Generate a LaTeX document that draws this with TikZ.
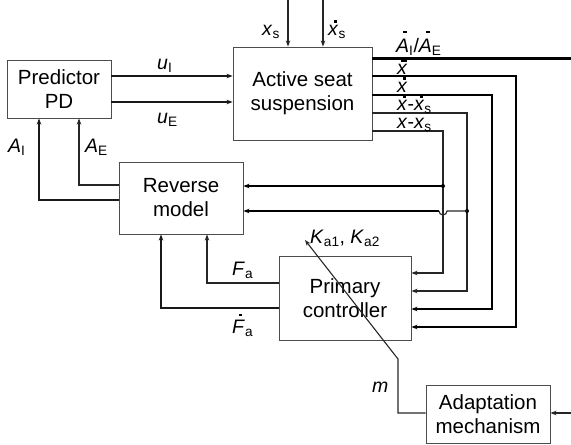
\documentclass[tikz,border=0pt]{standalone}
\usepackage{fontspec}
\setmainfont{Liberation Sans}
\usetikzlibrary{arrows.meta}
\newcommand{\vr}[2]{\textit{#1}\textsubscript{#2}}
\newcommand{\dotv}[1]{\leavevmode\rlap{\hspace{0.3em}\rule[0.64em]{0.14em}{0.14em}}\textit{#1}}
\newcommand{\ddotv}[1]{\leavevmode\rlap{\hspace{0.2em}\rule[0.64em]{0.32em}{0.14em}}\textit{#1}}
\newcommand{\dotF}{\leavevmode\rlap{\hspace{0.36em}\rule[0.86em]{0.14em}{0.14em}}\textit{F}}
\newcommand{\barA}{\leavevmode\rlap{\hspace{0.36em}\rule[0.98em]{0.2em}{0.09em}}\textit{A}}
\begin{document}
\begin{tikzpicture}[x=1pt,y=-1pt,
  box/.style={draw=black!70, line width=0.9pt, align=center, font=\fontsize{20.5}{24}\selectfont, inner sep=0pt},
  lbl/.style={font=\fontsize{19.5}{22}\selectfont, inner sep=0pt, anchor=base west, text height=12pt, text depth=3pt},
  thk/.style={line width=2.5pt},
  med/.style={line width=1.7pt, draw=black!90},
  thn/.style={line width=1.1pt, draw=black!85},
  arr/.style={-{Stealth[length=6pt,width=4.5pt]}},
]
\useasboundingbox (0,0) rectangle (571,445);

% boxes
\node[box, minimum width=104pt, minimum height=58pt] (pd) at (59,89) {Predictor\\PD};
\node[box, minimum width=139pt, minimum height=93pt] (ass) at (302.5,93.5) {Active seat\\suspension};
\node[box, minimum width=124pt, minimum height=72pt] (rm) at (181,198) {Reverse\\model};
\node[box, minimum width=132pt, minimum height=84pt] (pc) at (345,298) {Primary\\controller};
\node[box, minimum width=124pt, minimum height=58pt] (am) at (488,414) {Adaptation\\mechanism};

% coordinates
\coordinate (yuI) at (0,76);
\coordinate (yuE) at (0,102);
\coordinate (Aend) at (571,58);
\coordinate (t1) at (516,76);  \coordinate (b1) at (516,327);
\coordinate (t2) at (492,95);  \coordinate (b2) at (492,309);
\coordinate (t3) at (467,113); \coordinate (b3) at (467,291);
\coordinate (t4) at (443,131); \coordinate (b4) at (443,273);
\coordinate (d1) at (443,186);
\coordinate (d2) at (467,211);
\coordinate (h1) at (447,211);
\coordinate (h2) at (439,211);
\coordinate (ae) at (79,185);
\coordinate (ai) at (39,200);
\coordinate (fa) at (207,283);
\coordinate (fd) at (161,308);
\coordinate (xs0) at (288,0);
\coordinate (xd0) at (323,0);
\coordinate (amin) at (571,413);
\coordinate (m1) at (398,413);
\coordinate (m2) at (398,359);
\coordinate (kt) at (305,240);

% predictor -> suspension
\draw[med,arr] (pd.east |- yuI) -- (ass.west |- yuI);
\draw[med,arr] (pd.east |- yuE) -- (ass.west |- yuE);

% inputs from top
\draw[thn,arr] (xs0) -- (ass.north -| xs0);
\draw[thn,arr] (xd0) -- (ass.north -| xd0);

% outputs of suspension
\draw[line width=3pt] (ass.east |- Aend) -- (Aend);
\draw[thk,arr] (ass.east |- t1) -- (t1) -- (b1) -- (pc.east |- b1);
\draw[thk,arr] (ass.east |- t2) -- (t2) -- (b2) -- (pc.east |- b2);
\draw[thn,arr] (ass.east |- t3) -- (t3) -- (b3) -- (pc.east |- b3);
\draw[thn,arr] (ass.east |- t4) -- (t4) -- (b4) -- (pc.east |- b4);

% branches to reverse model
\fill (d1) circle (2);
\fill (d2) circle (2);
\draw[thk,arr] (d1) -- (rm.east |- d1);
\draw[thn] (d2) -- (h1) arc[start angle=0, end angle=180, radius=4];
\draw[thk,arr] (h2) -- (rm.east |- d2);

% reverse model -> predictor
\draw[thn,arr] (rm.west |- ae) -- (ae) -- (pd.south -| ae);
\draw[med,arr] (rm.west |- ai) -- (ai) -- (pd.south -| ai);

% primary controller -> reverse model
\draw[thn,arr] (pc.west |- fa) -- (fa) -- (rm.south -| fa);
\draw[med,arr] (pc.west |- fd) -- (fd) -- (rm.south -| fd);

% adaptation
\draw[thn,arr] (amin) -- (am.east |- amin);
\draw[thn,arr] (am.west |- m1) -- (m1) -- (m2) -- (kt);

% labels
\node[lbl] (luI) at (157,69) {\vr{u}{I}};
\node[lbl] (luE) at (157,123) {\vr{u}{E}};
\node[lbl] (lAI) at (8,152) {\vr{A}{I}};
\node[lbl] (lAE) at (85,152) {\vr{A}{E}};
\node[lbl] (lxs) at (262,35) {\vr{x}{s}};
\node[lbl] (lxds) at (328,35) {\dotv{x}\textsubscript{s}};
\node[lbl] (lA) at (396,52) {\barA\textsubscript{I}/\barA\textsubscript{E}};
\node[lbl] (lxdd) at (397,74) {\ddotv{x}};
\node[lbl] (lxd) at (397,92) {\dotv{x}};
\node[lbl] (lxdxs) at (397,110) {\dotv{x}-\dotv{x}\textsubscript{s}};
\node[lbl] (lxxs) at (397,128) {\textit{x}-\vr{x}{s}};
\node[lbl] (lK) at (310,243) {\vr{K}{a1}, \vr{K}{a2}};
\node[lbl] (lFa) at (232,275) {\vr{F}{a}};
\node[lbl] (lFd) at (232,333) {\dotF\textsubscript{a}};
\node[lbl] (lm) at (372,392) {\textit{m}};
\end{tikzpicture}
\end{document}
